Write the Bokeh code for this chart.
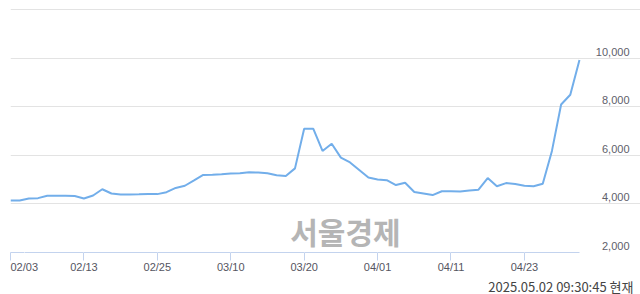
from bokeh.plotting import figure
from bokeh.models import Range1d, FixedTicker, Grid, Label, Title, LinearAxis
from bokeh.core.properties import value
from bokeh.embed import file_html
from bokeh.resources import INLINE

dates = [
    "02/03", "02/04", "02/05", "02/06", "02/07",
    "02/10", "02/11", "02/12", "02/13", "02/14",
    "02/17", "02/18", "02/19", "02/20", "02/21",
    "02/24", "02/25", "02/26", "02/27", "02/28",
    "03/04", "03/05", "03/06", "03/07",
    "03/10", "03/11", "03/12", "03/13", "03/14",
    "03/17", "03/18", "03/19", "03/20", "03/21",
    "03/24", "03/25", "03/26", "03/27", "03/28",
    "03/31", "04/01", "04/02", "04/03", "04/04",
    "04/07", "04/08", "04/09", "04/10", "04/11",
    "04/14", "04/15", "04/16", "04/17", "04/18",
    "04/21", "04/22", "04/23", "04/24", "04/25",
    "04/28", "04/29", "04/30", "05/02",
]
prices = [
    4145, 4145, 4225, 4240, 4335,
    4335, 4335, 4325, 4225, 4350,
    4605, 4430, 4390, 4390, 4395,
    4405, 4405, 4485, 4660, 4750,
    4970, 5195, 5205, 5225,
    5255, 5265, 5305, 5295, 5265,
    5185, 5155, 5465, 7095, 7095,
    6185, 6480, 5910, 5710, 5400,
    5090, 5010, 4980, 4780, 4875,
    4495, 4430, 4365, 4525, 4525,
    4510, 4550, 4590, 5065, 4730,
    4860, 4820, 4750, 4730, 4835,
    6185, 8095, 8500, 9930,
]
x_tick_labels = ["02/03", "02/13", "02/25", "03/10", "03/20", "04/01", "04/11", "04/23"]
grid_values = [4000, 6000, 8000, 10000, 12000]
y_tick_values = [2000, 4000, 6000, 8000, 10000]
timestamp = "2025.05.02 09:30:45 현재"
watermark = "서울경제"

xs = list(range(len(dates)))
last = len(dates) - 1
px_per_day = 9.177
x_end = 630 / px_per_day
label_x = 619 / px_per_day

p = figure(width=640, height=294, output_backend="svg", toolbar_location=None,
           x_range=Range1d(0, x_end), y_range=Range1d(2000, 12052),
           x_axis_location=None, y_axis_location=None,
           min_border_left=10, min_border_right=0,
           min_border_top=8, min_border_bottom=37)
p.outline_line_color = None
p.background_fill_color = "white"
p.border_fill_color = "white"
for g in list(p.center):
    if isinstance(g, Grid):
        g.visible = False

p.add_layout(Grid(dimension=1, ticker=FixedTicker(ticks=grid_values),
                  bounds=(0, last), grid_line_color="#e3e3e3", grid_line_width=1), "center")

tick_idx = [dates.index(d) for d in x_tick_labels]
# first label kept inside the plot, as in the reference
label_pos = [tick_idx[0] + 1.5] + tick_idx[1:]

ax = LinearAxis(ticker=FixedTicker(ticks=label_pos, minor_ticks=tick_idx), bounds=(0, last))
ax.major_label_overrides = {pos: d for pos, d in zip(label_pos, x_tick_labels)}
ax.axis_line_color = "#c3d3ee"
ax.major_tick_line_color = "white"
ax.major_tick_out = 8
ax.major_tick_in = 0
ax.minor_tick_line_color = "#c3d3ee"
ax.minor_tick_out = 8
ax.minor_tick_in = 0
ax.major_label_standoff = 0
ax.major_label_text_font = "Liberation Sans"
ax.major_label_text_font_size = "11px"
ax.major_label_text_color = "#55555f"
p.add_layout(ax, "below")

p.line(xs, prices, line_color="#72aeea", line_width=2)

p.add_layout(Label(x=36.5, y=2890, text=watermark,
                   text_font="Noto Sans CJK KR", text_font_style="bold",
                   text_font_size="30px", text_color="#b5b5b5",
                   text_align="center", text_baseline="middle"))

p.text(x=[label_x] * len(y_tick_values), y=y_tick_values,
       text=["{:,}".format(v) for v in y_tick_values],
       y_offset=-6.5, text_font=value("Liberation Sans"), text_font_size="11px",
       text_color="#60606a", text_align="right", text_baseline="middle")

p.add_layout(Title(text=timestamp, align="right", offset=7, standoff=-2,
                   text_font="Noto Sans CJK KR", text_font_size="13px",
                   text_font_style="normal", text_color="#444444"), "below")

open("out.html", "w").write(file_html(p, INLINE))
